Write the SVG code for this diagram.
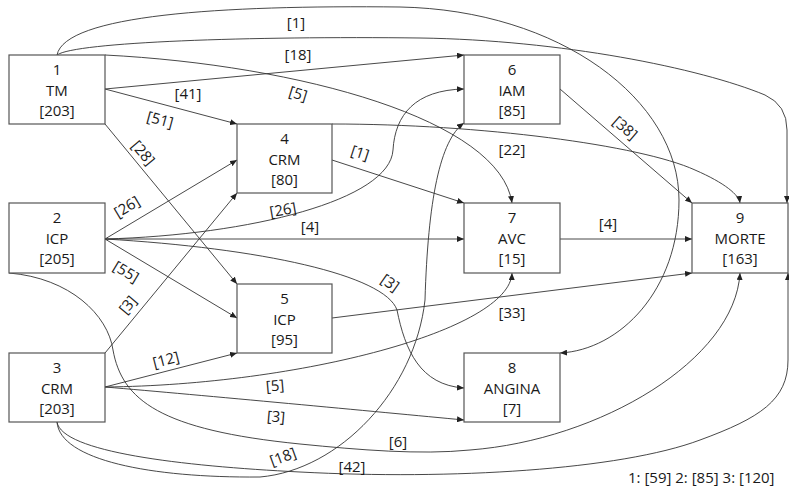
<svg xmlns="http://www.w3.org/2000/svg" width="789" height="486" viewBox="0 0 789 486">
<style>
.box{fill:#fff;stroke:#555;stroke-width:1.2}
.nt{font-family:"Open Sans","Liberation Sans",sans-serif;font-size:15px;fill:#1a1a1a;text-anchor:middle}
.lb{font-family:"Open Sans","Liberation Sans",sans-serif;font-size:15px;fill:#1a1a1a;text-anchor:middle}
.e{fill:none;stroke:#333;stroke-width:0.9;marker-end:url(#arr)}
.ne{fill:none;stroke:#333;stroke-width:0.9}
</style>
<defs>
<marker id="arr" markerUnits="userSpaceOnUse" markerWidth="8" markerHeight="6" refX="7" refY="3" orient="auto">
<path d="M0,0 L7,3 L0,6 z" fill="#222"/>
</marker>
</defs>
<rect width="789" height="486" fill="#fff"/>
<g id="connectors">
<path class="e" d="M57,55 C65,15 220,5 400,7 C560,10 679,100 679,200 C679,290 620,350 560,353"/>
<path class="ne" d="M57,55 C75,42 250,36 420,38 C560,40 700,68 765,95 Q787,105 787,130"/>
<path class="e" d="M787,130 L787,203"/>
<path class="e" d="M105,89 L464,55"/>
<path class="e" d="M105,55 C300,65 500,120 512,203"/>
<path class="e" d="M105,89 L237,124"/>
<path class="e" d="M105,124 L237,284"/>
<path class="e" d="M105,239 L237,160"/>
<path class="e" d="M105,239 L237,318"/>
<path class="e" d="M105,239 L464,239"/>
<path class="e" d="M105,239 C250,235 390,200 393,150 C395,115 415,90 464,89"/>
<path class="e" d="M105,239 C260,248 385,275 397,310 C405,350 420,385 464,388"/>
<path class="e" d="M9,273 C70,278 108,315 113,350 C122,400 160,430 300,444 C360,450 420,455 470,450 C600,440 735,360 740,273"/>
<path class="e" d="M105,353 L237,193"/>
<path class="e" d="M105,387 L237,353"/>
<path class="e" d="M105,387 C300,385 510,330 512,273"/>
<path class="e" d="M105,387 C200,395 380,412 464,420"/>
<path class="e" d="M57,422 C60,460 150,478 260,477 C340,470 415,390 425,300 C428,200 440,140 464,123"/>
<path class="ne" d="M57,422 C62,452 180,466 300,472 C450,480 620,470 700,440 C760,418 788,400 788,360"/>
<path class="e" d="M788,360 L788,273"/>
<path class="e" d="M332,160 L464,203"/>
<path class="e" d="M332,124 C480,124 640,145 695,170 C725,183 739,195 740,203"/>
<path class="e" d="M332,318 L692,273"/>
<path class="e" d="M560,89 L692,203"/>
<path class="e" d="M560,239 L692,239"/>
<g id="edge-labels">
<text class="lb" x="296" y="28">[1]</text>
<text class="lb" x="298" y="60">[18]</text>
<text class="lb" x="188" y="99">[41]</text>
<text class="lb" x="298" y="99" transform="rotate(17 298 94)">[5]</text>
<text class="lb" x="160" y="125" transform="rotate(15 160 120)">[51]</text>
<text class="lb" x="143" y="158" transform="rotate(50 143 153)">[28]</text>
<text class="lb" x="127" y="212" transform="rotate(-31 127 207)">[26]</text>
<text class="lb" x="126" y="277" transform="rotate(31 126 272)">[55]</text>
<text class="lb" x="128" y="310" transform="rotate(-50 128 305)">[3]</text>
<text class="lb" x="283" y="215" transform="rotate(-10 283 210)">[26]</text>
<text class="lb" x="310" y="232">[4]</text>
<text class="lb" x="390" y="288" transform="rotate(35 390 283)">[3]</text>
<text class="lb" x="360" y="158" transform="rotate(18 360 153)">[1]</text>
<text class="lb" x="512" y="155">[22]</text>
<text class="lb" x="625" y="133" transform="rotate(41 625 128)">[38]</text>
<text class="lb" x="608" y="229">[4]</text>
<text class="lb" x="512" y="318">[33]</text>
<text class="lb" x="166" y="365" transform="rotate(-14.5 166 360)">[12]</text>
<text class="lb" x="275" y="391" transform="rotate(-5 275 386)">[5]</text>
<text class="lb" x="276" y="422" transform="rotate(5 276 417)">[3]</text>
<text class="lb" x="283" y="462" transform="rotate(-20 283 457)">[18]</text>
<text class="lb" x="398" y="447">[6]</text>
<text class="lb" x="352" y="472">[42]</text>
</g>
</g>
<g id="n1"><rect class="box" x="9" y="55" width="96" height="69"/><text class="nt" x="57" y="75">1</text><text class="nt" x="57" y="96">TM</text><text class="nt" x="57" y="116">[203]</text></g>
<g id="n2"><rect class="box" x="9" y="203" width="96" height="70"/><text class="nt" x="57" y="223">2</text><text class="nt" x="57" y="244">ICP</text><text class="nt" x="57" y="264">[205]</text></g>
<g id="n3"><rect class="box" x="9" y="353" width="96" height="69"/><text class="nt" x="57" y="373">3</text><text class="nt" x="57" y="394">CRM</text><text class="nt" x="57" y="414">[203]</text></g>
<g id="n4"><rect class="box" x="237" y="124" width="95" height="69"/><text class="nt" x="284.5" y="144">4</text><text class="nt" x="284.5" y="165">CRM</text><text class="nt" x="284.5" y="185">[80]</text></g>
<g id="n5"><rect class="box" x="237" y="284" width="95" height="69"/><text class="nt" x="284.5" y="304">5</text><text class="nt" x="284.5" y="325">ICP</text><text class="nt" x="284.5" y="345">[95]</text></g>
<g id="n6"><rect class="box" x="464" y="55" width="96" height="69"/><text class="nt" x="512" y="75">6</text><text class="nt" x="512" y="96">IAM</text><text class="nt" x="512" y="116">[85]</text></g>
<g id="n7"><rect class="box" x="464" y="203" width="96" height="70"/><text class="nt" x="512" y="223">7</text><text class="nt" x="512" y="244">AVC</text><text class="nt" x="512" y="264">[15]</text></g>
<g id="n8"><rect class="box" x="464" y="353" width="96" height="69"/><text class="nt" x="512" y="373">8</text><text class="nt" x="512" y="394">ANGINA</text><text class="nt" x="512" y="414">[7]</text></g>
<g id="n9"><rect class="box" x="692" y="203" width="96" height="70"/><text class="nt" x="740" y="223">9</text><text class="nt" x="740" y="244">MORTE</text><text class="nt" x="740" y="264">[163]</text></g>
<text class="lb" x="628" y="483" style="text-anchor:start">1: [59] 2: [85] 3: [120]</text>
</svg>
